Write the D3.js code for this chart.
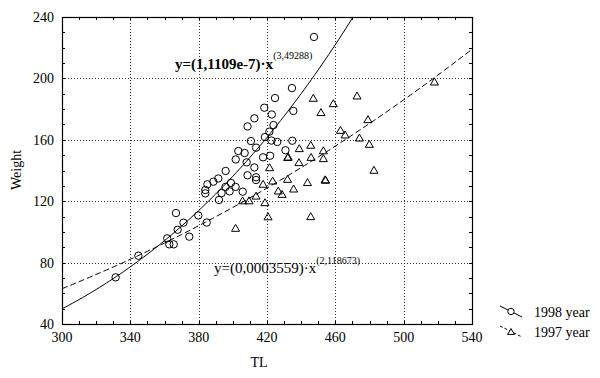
<!DOCTYPE html>
<html>
<head>
<meta charset="utf-8">
<script src="https://cdn.jsdelivr.net/npm/d3@7"></script>
<style>
  body { margin: 0; background: #fff; }
  text { font-family: "Liberation Serif", "DejaVu Serif", serif; fill: #000; }
</style>
</head>
<body>
<svg width="600" height="378"></svg>
<script>
// TL / Weight of 1998 sample (circles)
const tl1998 = [447.5, 434.6, 424.7, 418.4, 422.8, 435.4, 412.6, 408.6, 423.8, 421.4,
  418.8, 410.6, 422.6, 426.0, 434.8, 413.6, 403.2, 406.9, 430.8, 401.7,
  417.7, 421.8, 408.1, 412.6, 395.8, 408.6, 413.6, 413.6, 391.5, 388.6,
  385.1, 383.9, 383.9, 398.9, 401.6, 395.7, 398.1, 393.4, 405.8, 391.9,
  366.7, 371.1, 379.8, 384.7, 367.7, 374.5, 361.6, 362.8, 365.4, 344.7, 331.4];
const w1998 = [227.0, 193.7, 187.2, 180.9, 176.5, 178.8, 174.0, 168.7, 169.6, 165.3,
  161.8, 159.2, 159.5, 158.6, 159.4, 154.9, 152.7, 151.4, 153.2, 147.2,
  148.6, 149.6, 145.3, 142.0, 139.7, 136.9, 135.6, 133.8, 134.8, 132.7,
  131.0, 127.3, 125.1, 131.9, 129.3, 129.3, 126.4, 125.3, 126.2, 120.8,
  112.3, 106.0, 110.7, 106.1, 101.4, 96.9, 95.8, 91.9, 91.9, 84.5, 70.4];

// TL / Weight of 1997 sample (triangles)
const tl1997 = [518.0, 472.7, 447.1, 458.8, 451.6, 479.1, 463.0, 465.7, 474.1, 479.9,
  445.6, 438.9, 453.0, 432.1, 432.4, 445.8, 453.0, 438.7, 421.5, 482.6,
  432.0, 423.3, 417.7, 443.7, 454.0, 454.3, 435.6, 426.6, 428.8, 413.6,
  409.5, 405.7, 418.8, 420.6, 445.6, 401.6];
const w1997 = [197.2, 188.1, 186.6, 183.1, 177.3, 172.7, 165.7, 162.7, 160.7, 156.6,
  156.0, 153.8, 152.4, 148.0, 148.3, 148.1, 147.3, 144.7, 141.4, 139.7,
  133.8, 132.7, 130.6, 131.7, 133.5, 133.2, 127.5, 126.2, 124.0, 122.9,
  119.8, 119.8, 118.6, 109.4, 109.5, 101.9];

// fitted power curves y = a * x^b, as printed on the chart
const fit1998 = [1.1109e-7, 3.49288];
const fit1997 = [0.0003559, 2.118673];

const xTicks = [300, 340, 380, 420, 460, 500, 540];
const yTicks = [40, 80, 120, 160, 200, 240];
const seriesNames = ["1998 year", "1997 year"];

const svg = d3.select("svg");
const margin = {left: 62, right: 472, top: 17, bottom: 324};

const x = d3.scaleLinear().domain([300, 540]).range([margin.left, margin.right]);
const y = d3.scaleLinear().domain([40, 240]).range([margin.bottom, margin.top]);

svg.append("clipPath").attr("id", "plot")
  .append("rect")
  .attr("x", margin.left).attr("y", margin.top)
  .attr("width", margin.right - margin.left).attr("height", margin.bottom - margin.top);

// grid
const grid = svg.append("g")
  .attr("stroke", "#000")
  .attr("stroke-width", 1)
  .attr("stroke-dasharray", "1,2")
  .attr("opacity", 0.8);
grid.selectAll(".gx").data(xTicks.slice(1, -1)).enter().append("line")
  .attr("x1", d => Math.round(x(d)) + 0.5).attr("x2", d => Math.round(x(d)) + 0.5)
  .attr("y1", margin.top).attr("y2", margin.bottom);
grid.selectAll(".gy").data(yTicks.slice(1, -1)).enter().append("line")
  .attr("y1", d => Math.round(y(d)) + 0.5).attr("y2", d => Math.round(y(d)) + 0.5)
  .attr("x1", margin.left).attr("x2", margin.right);

// inward ticks on all four sides
const xMinor = d3.range(300, 541, 10);
const yMinor = d3.range(40, 241, 10);
const ticks = svg.append("g").attr("stroke", "#000").attr("stroke-width", 1);
[margin.bottom, margin.top].forEach((yy, i) => {
  ticks.selectAll(null).data(xMinor).enter().append("line")
    .attr("x1", d => Math.round(x(d)) + 0.5).attr("x2", d => Math.round(x(d)) + 0.5)
    .attr("y1", yy).attr("y2", i === 0 ? yy - 3 : yy + 3);
});
[margin.left, margin.right].forEach((xx, i) => {
  ticks.selectAll(null).data(yMinor).enter().append("line")
    .attr("y1", d => Math.round(y(d)) + 0.5).attr("y2", d => Math.round(y(d)) + 0.5)
    .attr("x1", xx).attr("x2", i === 0 ? xx + 3 : xx - 3);
});

// frame
svg.append("rect")
  .attr("x", margin.left + 0.5).attr("y", margin.top + 0.5)
  .attr("width", margin.right - margin.left).attr("height", margin.bottom - margin.top)
  .attr("fill", "none").attr("stroke", "#000").attr("stroke-width", 1.2);

// tick labels
svg.append("g").selectAll("text").data(xTicks).enter().append("text")
  .attr("x", d => x(d)).attr("y", 342)
  .attr("text-anchor", "middle").attr("font-size", 14)
  .text(d => d);
svg.append("g").selectAll("text").data(yTicks).enter().append("text")
  .attr("x", 54).attr("y", d => y(d) + 5)
  .attr("text-anchor", "end").attr("font-size", 14)
  .text(d => d);

// axis titles
svg.append("text").attr("x", 259).attr("y", 367)
  .attr("text-anchor", "middle").attr("font-size", 14).text("TL");
svg.append("text")
  .attr("transform", "translate(21,170) rotate(-90)")
  .attr("text-anchor", "middle").attr("font-size", 14).text("Weight");

// curves
const power = f => v => f[0] * Math.pow(v, f[1]);
const xs = d3.range(300, 540.5, 2);
const line = d3.line().x(d => x(d[0])).y(d => y(d[1]));
const plot = svg.append("g").attr("clip-path", "url(#plot)");
plot.append("path")
  .attr("d", line(xs.map(v => [v, power(fit1998)(v)])))
  .attr("fill", "none").attr("stroke", "#000").attr("stroke-width", 1);
plot.append("path")
  .attr("d", line(xs.map(v => [v, power(fit1997)(v)])))
  .attr("fill", "none").attr("stroke", "#000").attr("stroke-width", 1)
  .attr("stroke-dasharray", "6,3");

// points
const tri = d3.symbol(d3.symbolTriangle, 28);
plot.selectAll(".c").data(d3.zip(tl1998, w1998)).enter().append("circle")
  .attr("cx", d => x(d[0])).attr("cy", d => y(d[1])).attr("r", 3.7)
  .attr("fill", "none").attr("stroke", "#000").attr("stroke-width", 1);
plot.selectAll(".t").data(d3.zip(tl1997, w1997)).enter().append("path")
  .attr("d", tri)
  .attr("transform", d => `translate(${x(d[0])},${y(d[1])})`)
  .attr("fill", "none").attr("stroke", "#000").attr("stroke-width", 1);

// equations
const eq1 = svg.append("text").attr("x", 175).attr("y", 69)
  .attr("font-size", 15).attr("font-weight", "bold");
eq1.append("tspan").text("y=(1,1109e-7)·x");
eq1.append("tspan").attr("font-size", 10).attr("font-weight", "normal")
  .attr("dy", -10).text("(3,49288)");

const eq2 = svg.append("text").attr("x", 214).attr("y", 273)
  .attr("font-size", 15);
eq2.append("tspan").text("y=(0,0003559)·x");
eq2.append("tspan").attr("font-size", 10).attr("dy", -9).text("(2,118673)");

// legend
const legend = svg.append("g");
const leg = [
  {name: seriesNames[0], y0: 306, dash: null},
  {name: seriesNames[1], y0: 326, dash: "3,2"}
];
leg.forEach((d, i) => {
  legend.append("line")
    .attr("x1", 500).attr("y1", d.y0).attr("x2", 522).attr("y2", d.y0 + 11)
    .attr("stroke", "#000").attr("stroke-width", 1)
    .attr("stroke-dasharray", d.dash);
  if (i === 0) {
    legend.append("circle").attr("cx", 511).attr("cy", d.y0 + 5.5).attr("r", 3.2)
      .attr("fill", "#fff").attr("stroke", "#000");
  } else {
    legend.append("path").attr("d", d3.symbol(d3.symbolTriangle, 20))
      .attr("transform", `translate(511,${d.y0 + 6.5})`)
      .attr("fill", "#fff").attr("stroke", "#000");
  }
  legend.append("text").attr("x", 534).attr("y", d.y0 + 11)
    .attr("font-size", 14).text(d.name);
});
</script>
</body>
</html>
